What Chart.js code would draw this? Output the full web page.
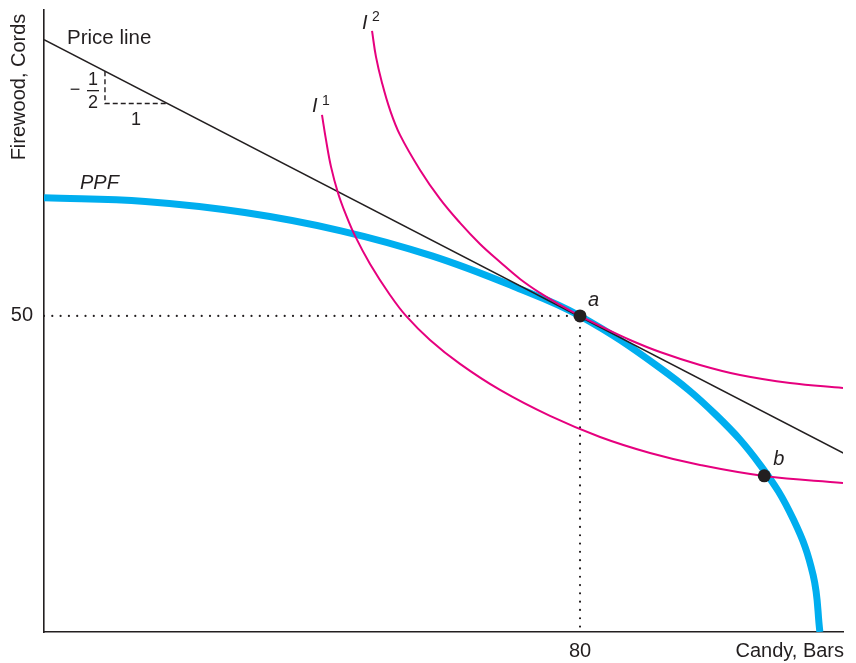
<!DOCTYPE html>
<html>
<head>
<meta charset="utf-8">
<script src="https://cdn.jsdelivr.net/npm/chart.js@4"></script>
<style>
  body { margin: 0; background: #fff; }
  canvas { display: block; }
</style>
</head>
<body>
<canvas id="myChart" width="856" height="663"></canvas>
<script>
// values (candy bars on x, cords of firewood on y)
var ppfX = [0, 15.11, 29.97, 44.32, 57.9, 70.5, 80, 91.87, 100.29, 106.99, 111.85, 114.8, 115.8];
var ppfY = [68.7, 68.11, 66.36, 63.47, 59.5, 54.5, 50, 41.82, 34.35, 26.29, 17.78, 8.97, 0];

var i1X = [41.49, 42.09, 42.84, 43.88, 45.07, 46.42, 48.66, 51.64, 54.03, 57.61, 62.09, 68.06, 75.52, 82.99, 90.45, 97.91, 107.46, 119.25];
var i1Y = [81.8, 77.85, 73.58, 69.46, 65.98, 62.66, 58.23, 53.32, 50.0, 46.2, 42.41, 38.29, 34.18, 30.85, 28.32, 26.42, 24.68, 23.58];

var i2X = [48.96, 49.55, 50.45, 51.64, 53.13, 56.12, 59.1, 62.09, 65.07, 68.06, 71.04, 74.03, 77.01, 80, 82.99, 87.46, 91.94, 97.91, 103.88, 111.34, 119.25];
var i2Y = [95.09, 90.98, 86.87, 82.59, 78.64, 73.1, 68.51, 64.72, 61.39, 58.54, 55.85, 53.64, 51.74, 50, 48.42, 46.2, 44.3, 42.25, 40.66, 39.4, 38.61];

var priceX = [0, 119.3];
var priceY = [93.7, 28.3];

// dashed slope triangle (-1/2 over 1)
var slopeX = [9.1, 9.1, 18.4];
var slopeY = [88.7, 83.6, 83.6];

// dotted guides to the axes from a
var guideX = [0, 80, 80];
var guideY = [50, 50, 0];

var pointNames = ["a", "b"];
var pointX = [80, 107.5];
var pointY = [50, 24.7];

var xTicks = [80];
var yTicks = [50];

var ink = "#231f20";
var magenta = "#e6007e";
var cyan = "#00aeef";
var font = "'Liberation Sans', Arial, Helvetica, sans-serif";

function pts(xs, ys) {
  return xs.map(function(x, i) {
    return { x: x, y: ys[i] };
  });
}

var labels = {
  id: "labels",
  afterDraw: function(chart) {
    var ctx = chart.ctx;
    var xs = chart.scales.x;
    var ys = chart.scales.y;
    ctx.save();
    ctx.fillStyle = ink;
    ctx.textBaseline = "middle";

    // tick labels
    ctx.font = "20px " + font;
    ctx.textAlign = "center";
    xTicks.forEach(function(t) {
      ctx.fillText(String(t), xs.getPixelForValue(t), 651);
    });
    ctx.textAlign = "right";
    yTicks.forEach(function(t) {
      ctx.fillText(String(t), 33, ys.getPixelForValue(t));
    });

    // axis titles
    ctx.fillText("Candy, Bars", 844, 651);
    ctx.save();
    ctx.translate(19, 87);
    ctx.rotate(-Math.PI / 2);
    ctx.textAlign = "center";
    ctx.fillText("Firewood, Cords", 0, 0);
    ctx.restore();

    // price line + slope
    ctx.textAlign = "left";
    ctx.font = "20.5px " + font;
    ctx.fillText("Price line", 67, 38);
    ctx.font = "18px " + font;
    ctx.textAlign = "center";
    ctx.fillText("\u2212", 75, 90);
    ctx.fillText("1", 93, 80);
    ctx.fillText("2", 93, 103);
    ctx.fillText("1", 136, 120);
    ctx.fillRect(87, 90, 12, 1.3);

    // curve names
    ctx.font = "italic 20px " + font;
    ctx.textAlign = "left";
    ctx.fillText("PPF", 80, 183);
    ctx.fillText("I", 312, 106);
    ctx.fillText("I", 362, 23);
    ctx.font = "14px " + font;
    ctx.fillText("1", 322, 101);
    ctx.fillText("2", 372, 17);

    // point names
    ctx.font = "italic 20px " + font;
    ctx.fillText(pointNames[0], xs.getPixelForValue(pointX[0]) + 8, ys.getPixelForValue(pointY[0]) - 16);
    ctx.fillText(pointNames[1], xs.getPixelForValue(pointX[1]) + 9, ys.getPixelForValue(pointY[1]) - 16);
    ctx.restore();
  }
};

var curve = { showLine: true, pointRadius: 0, tension: 0.4 };

var ctx = document.getElementById("myChart").getContext("2d");
var chart = new Chart(ctx, {
  type: "scatter",
  data: {
    datasets: [
      {
        label: "points",
        data: pts(pointX, pointY),
        showLine: false,
        pointRadius: 6.5,
        pointBackgroundColor: ink,
        pointBorderWidth: 0
      },
      Object.assign({ label: "I2", data: pts(i2X, i2Y), borderColor: magenta, borderWidth: 2 }, curve),
      Object.assign({ label: "I1", data: pts(i1X, i1Y), borderColor: magenta, borderWidth: 2 }, curve),
      {
        label: "Price line",
        data: pts(priceX, priceY),
        showLine: true,
        borderColor: ink,
        borderWidth: 1.6,
        pointRadius: 0
      },
      Object.assign({ label: "PPF", data: pts(ppfX, ppfY), borderColor: cyan, borderWidth: 7 }, curve),
      {
        label: "slope",
        data: pts(slopeX, slopeY),
        showLine: true,
        borderColor: ink,
        borderWidth: 1.4,
        borderDash: [5, 3],
        pointRadius: 0
      },
      {
        label: "guide",
        data: pts(guideX, guideY),
        showLine: true,
        borderColor: ink,
        borderWidth: 2.2,
        borderDash: [0, 8.3],
        borderCapStyle: "round",
        pointRadius: 0
      }
    ]
  },
  options: {
    responsive: false,
    animation: false,
    layout: { padding: { left: 44, right: 13, top: 10, bottom: 31 } },
    plugins: {
      legend: { display: false },
      tooltip: { enabled: false }
    },
    scales: {
      x: {
        type: "linear",
        min: 0,
        max: 119.25,
        grid: { display: false, drawTicks: false },
        ticks: { display: false },
        border: { display: true, color: ink, width: 1.6 }
      },
      y: {
        type: "linear",
        min: 0,
        max: 98.4,
        grid: { display: false, drawTicks: false },
        ticks: { display: false },
        border: { display: true, color: ink, width: 1.6 }
      }
    }
  },
  plugins: [labels]
});
</script>
</body>
</html>
